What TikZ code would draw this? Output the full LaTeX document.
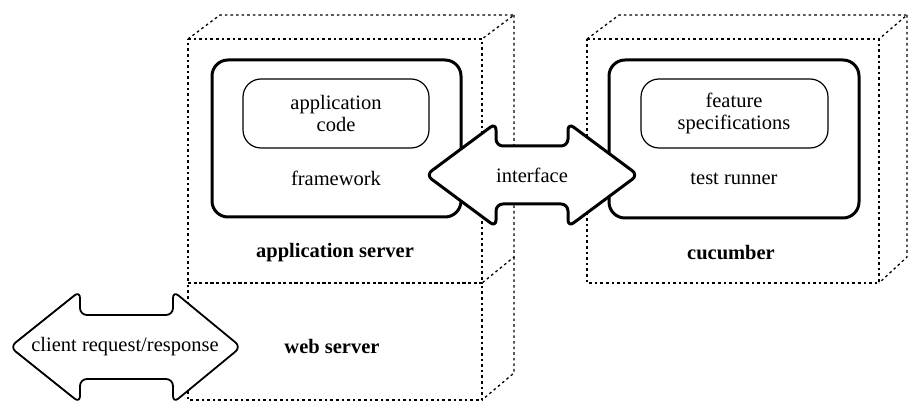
\documentclass[tikz,border=0pt]{standalone}
\usepackage{fontspec}
\setmainfont{Liberation Serif}
\begin{document}
\begin{tikzpicture}[x=1pt,y=-1pt,
  dotbox/.style={line width=1.3pt, dash pattern=on 2.6pt off 3pt},
  outerbox/.style={draw, line width=3pt, rounded corners=16pt},
  innerbox/.style={draw, line width=1.2pt, rounded corners=18pt},
  lbl/.style={font=\fontsize{20.5}{23}\selectfont, align=center, inner sep=0pt},
  blbl/.style={lbl, font=\fontsize{20.5}{23}\selectfont\bfseries},
  bigarrow/.style={draw, fill=white, rounded corners=7pt, line join=round}
]
\useasboundingbox (0,0) rectangle (908,403);

% web server box
\coordinate (wsA) at (188,283);
\coordinate (wsB) at (482,283);
\coordinate (wsC) at (482,400);
\coordinate (wsD) at (188,400);
\coordinate (wsE) at (514,373);
\draw[dotbox] (wsA) -- (wsB) -- (wsC) -- (wsD) -- cycle;
\draw[dotbox] (514,257) -- (wsE) -- (wsC);

% application server box
\coordinate (asA) at (188,39);
\coordinate (asB) at (482,39);
\coordinate (asC) at (482,283);
\coordinate (asD) at (188,283);
\coordinate (asE) at (220,15);
\coordinate (asF) at (514,15);
\coordinate (asG) at (514,257);
\draw[dotbox] (asA) -- (asB) -- (asC) -- (asD) -- cycle;
\draw[dotbox] (asA) -- (asE) -- (asF) -- (asB);
\draw[dotbox] (asF) -- (asG) -- (asC);

% cucumber box
\coordinate (cuA) at (587,39);
\coordinate (cuB) at (879,39);
\coordinate (cuC) at (879,283);
\coordinate (cuD) at (587,283);
\coordinate (cuE) at (619,15);
\coordinate (cuF) at (907,15);
\coordinate (cuG) at (907,257);
\draw[dotbox] (cuA) -- (cuB) -- (cuC) -- (cuD) -- cycle;
\draw[dotbox] (cuA) -- (cuE) -- (cuF) -- (cuB);
\draw[dotbox] (cuF) -- (cuG) -- (cuC);

% framework
\draw[outerbox] (212,60) rectangle (461,217);
\draw[innerbox] (243,79) rectangle (429,148);
\node[lbl] (appcode) at (336,113) {application\\[-1pt]code};
\node[lbl] (framework) at (336,178) {framework};
\node[blbl] (appserver) at (335,253) {application server};

% test runner
\draw[outerbox] (609,60) rectangle (859,218);
\draw[innerbox] (641,79) rectangle (828,148);
\node[lbl] (feat) at (734,113) {feature\\[-1pt]specifications};
\node[lbl] (runner) at (734,179) {test runner};
\node[blbl] (cucumber) at (731,253) {cucumber};

% interface arrow
\draw[bigarrow, line width=3pt]
  (426,175) -- (496,123) -- (496,146) -- (568,146) -- (568,123) -- (638,175)
  -- (568,227) -- (568,204) -- (496,204) -- (496,227) -- cycle;
\node[lbl] (iface) at (532,175) {interface};

% client request/response arrow
\draw[bigarrow, line width=1.8pt]
  (10,347) -- (80,291) -- (80,315) -- (173,315) -- (173,291) -- (241,347)
  -- (173,403) -- (173,379) -- (80,379) -- (80,403) -- cycle;
\node[lbl] (client) at (125,347) {client request/response};
\node[blbl] (webserver) at (332,346) {web server};
\end{tikzpicture}
\end{document}
